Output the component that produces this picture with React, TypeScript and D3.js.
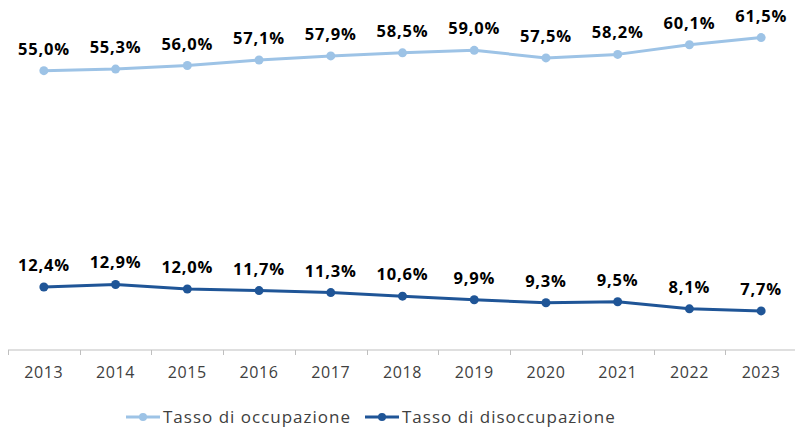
import React, { useEffect, useRef } from 'react';
import * as d3 from 'd3';

// Years on the x axis
const years = ['2013', '2014', '2015', '2016', '2017', '2018', '2019', '2020', '2021', '2022', '2023'];

// Employment rate (%)
const occupazione = [55.0, 55.3, 56.0, 57.1, 57.9, 58.5, 59.0, 57.5, 58.2, 60.1, 61.5];

// Unemployment rate (%)
const disoccupazione = [12.4, 12.9, 12.0, 11.7, 11.3, 10.6, 9.9, 9.3, 9.5, 8.1, 7.7];

const seriesNames = ['Tasso di occupazione', 'Tasso di disoccupazione'];
const seriesColors = ['#9dc3e6', '#1f5597'];

const App = () => {
  const chartRef = useRef<SVGSVGElement>(null);

  useEffect(() => {
    const width = 795;
    const height = 428;
    const svg = d3.select(chartRef.current);
    svg.selectAll('*').remove();
    svg.attr('width', width).attr('height', height);

    const x = d3.scaleBand().domain(years).range([8, 797]);
    const y = d3.scaleLinear().domain([0, 68]).range([350, 4.6]);
    const cx = (yr) => (x(yr) as number) + x.bandwidth() / 2;

    // x axis baseline + ticks between categories
    const axisY = 350;
    svg.append('line')
      .attr('x1', 8).attr('x2', 795)
      .attr('y1', axisY).attr('y2', axisY)
      .attr('stroke', '#bfbfbf').attr('stroke-width', 1);

    svg.selectAll('.tick')
      .data(years)
      .join('line')
      .attr('class', 'tick')
      .attr('x1', d => Math.round(x(d) as number) + 0.5)
      .attr('x2', d => Math.round(x(d) as number) + 0.5)
      .attr('y1', axisY)
      .attr('y2', axisY + 5)
      .attr('stroke', '#bfbfbf');

    svg.selectAll('.year')
      .data(years)
      .join('text')
      .attr('class', 'year')
      .attr('x', d => cx(d))
      .attr('y', 378)
      .attr('text-anchor', 'middle')
      .attr('fill', '#404040')
      .style('font-family', '"Open Sans", sans-serif')
      .style('font-size', '16px')
      .style('letter-spacing', '0.6px')
      .text(d => d);

    const line = d3.line<number>()
      .x((d, i) => cx(years[i]))
      .y(d => y(d));

    [occupazione, disoccupazione].forEach((values, si) => {
      const g = svg.append('g');
      g.append('path')
        .datum(values)
        .attr('d', line)
        .attr('fill', 'none')
        .attr('stroke', seriesColors[si])
        .attr('stroke-width', 3)
        .attr('stroke-linejoin', 'round');

      g.selectAll('circle')
        .data(values)
        .join('circle')
        .attr('cx', (d, i) => cx(years[i]))
        .attr('cy', d => y(d))
        .attr('r', 4.5)
        .attr('fill', seriesColors[si]);

      // value labels above each point
      g.selectAll('text')
        .data(values)
        .join('text')
        .attr('x', (d, i) => cx(years[i]))
        .attr('y', d => y(d) - 16)
        .attr('text-anchor', 'middle')
        .attr('fill', '#000')
        .style('font-family', '"Open Sans", sans-serif')
        .style('font-weight', 'bold')
        .style('font-size', '16.5px')
        .style('letter-spacing', '0.8px')
        .text(d => d.toFixed(1).replace('.', ',') + '%');
    });

    // legend
    const legendX = [126, 365];
    seriesNames.forEach((name, si) => {
      const lg = svg.append('g').attr('transform', `translate(${legendX[si]},417)`);
      lg.append('line')
        .attr('x1', 0).attr('x2', 34)
        .attr('stroke', seriesColors[si]).attr('stroke-width', 3);
      lg.append('circle')
        .attr('cx', 17).attr('r', 4).attr('fill', seriesColors[si]);
      lg.append('text')
        .attr('x', 37)
        .attr('y', 6)
        .attr('fill', '#404040')
        .style('font-family', '"Open Sans", sans-serif')
        .style('font-size', '17px')
        .style('letter-spacing', '1px')
        .text(name);
    });
  }, []);

  return (
    <div style={{ position: 'absolute', left: 0, top: 0, background: '#fff' }}>
      <svg ref={chartRef} style={{ display: 'block' }}></svg>
    </div>
  );
};

export default App;
